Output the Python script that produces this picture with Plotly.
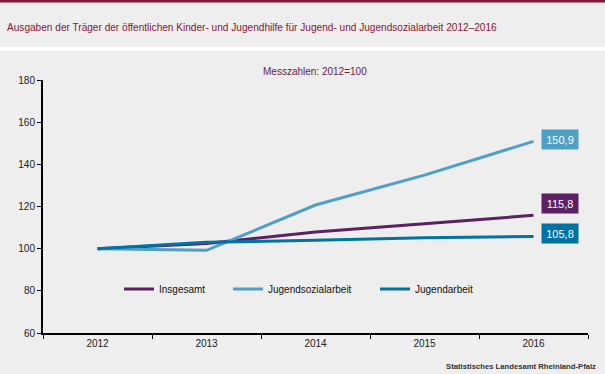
import plotly.graph_objects as go

years = ["2012", "2013", "2014", "2015", "2016"]
insgesamt = [100, 102.4, 107.9, 112.0, 115.8]
jugendsozialarbeit = [100, 99.2, 120.7, 134.9, 150.9]
jugendarbeit = [100, 103.0, 104.0, 105.2, 105.8]

series_names = ["Insgesamt", "Jugendsozialarbeit", "Jugendarbeit"]
series_values = [insgesamt, jugendsozialarbeit, jugendarbeit]
series_colors = ["#5b2162", "#4fa0c7", "#0072a3"]
legend_ids = ["legend", "legend2", "legend3"]
legend_text_x = [161, 270, 417]   # pixel anchor for legend items
label_yshift = [12, 2, 3]          # vertical offsets for end labels

W, H = 605, 374
L, R, T, B = 43, 17, 80, 41
PW, PH = W - L - R, H - T - B

def px_x(x):
    return (x - L) / PW

def px_y(y):
    return (H - B - y) / PH

BG = "#edeeed"
FONT = "Arial, Liberation Sans, sans-serif"

fig = go.Figure()
for name, vals, col, lg in zip(series_names, series_values, series_colors, legend_ids):
    fig.add_trace(go.Scatter(x=years, y=vals, mode="lines", name=name,
                             line=dict(color=col, width=3), legend=lg))

# end-value labels
for vals, col, ys in zip(series_values, series_colors, label_yshift):
    fig.add_annotation(x=len(years) - 1, y=vals[-1], xref="x", yref="y",
                       text=f"{vals[-1]:.1f}".replace(".", ","),
                       showarrow=False, xanchor="left", xshift=7, yshift=ys,
                       bgcolor=col, font=dict(color="white", size=11, family=FONT),
                       width=32, height=15, borderpad=2)

# title, subtitle, source
fig.add_annotation(x=px_x(5), y=px_y(27.5), xref="paper", yref="paper",
                   text="Ausgaben der Träger der öffentlichen Kinder- und Jugendhilfe für Jugend- und Jugendsozialarbeit 2012–2016",
                   showarrow=False, xanchor="left", yanchor="middle",
                   font=dict(color="#8a1538", size=10.1, family=FONT))
fig.add_annotation(x=px_x(315), y=px_y(71), xref="paper", yref="paper",
                   text="Messzahlen: 2012=100", showarrow=False,
                   xanchor="center", yanchor="middle",
                   font=dict(color="#6a2048", size=10, family=FONT))
fig.add_annotation(x=px_x(598), y=px_y(366), xref="paper", yref="paper",
                   text="<b>Statistisches Landesamt Rheinland-Pfalz</b>", showarrow=False,
                   xanchor="right", yanchor="middle",
                   font=dict(color="#333333", size=7.7, family=FONT))

shapes = [
    dict(type="rect", xref="paper", yref="paper", x0=px_x(0), x1=px_x(W), y0=px_y(0), y1=px_y(2.5),
         fillcolor="#8a1538", line=dict(width=0), layer="below"),
    dict(type="rect", xref="paper", yref="paper", x0=px_x(0), x1=px_x(W), y0=px_y(47), y1=px_y(51),
         fillcolor="white", line=dict(width=0), layer="below"),
]

legend_common = dict(orientation="h", xanchor="left", yanchor="middle", bgcolor="rgba(0,0,0,0)",
                     font=dict(size=10, family=FONT, color="#111111"))
layout_legends = {}
for lg, tx in zip(legend_ids, legend_text_x):
    layout_legends[lg] = dict(legend_common, x=px_x(tx - 42), y=px_y(289))

fig.update_layout(
    width=W, height=H,
    margin=dict(l=L, r=R, t=T, b=B),
    paper_bgcolor=BG, plot_bgcolor=BG,
    font=dict(family=FONT, size=10, color="#222222"),
    showlegend=True,
    shapes=shapes,
    xaxis=dict(type="category", range=[-0.5, 4.5], showgrid=False, zeroline=False,
               showline=True, linecolor="black", linewidth=2,
               ticks="outside", tickson="boundaries", ticklen=4, tickcolor="black", tickwidth=1,
               tickfont=dict(size=10, color="#222222")),
    yaxis=dict(range=[60, 180], dtick=20, showgrid=False, zeroline=False,
               showline=True, linecolor="black", linewidth=2,
               ticks="outside", ticklen=4, tickcolor="black", tickwidth=1,
               tickfont=dict(size=10, color="#222222")),
    **layout_legends,
)

fig.write_html("out.html", config={"displayModeBar": False},
               post_script="document.body.style.margin='0';document.body.style.overflow='hidden';")
